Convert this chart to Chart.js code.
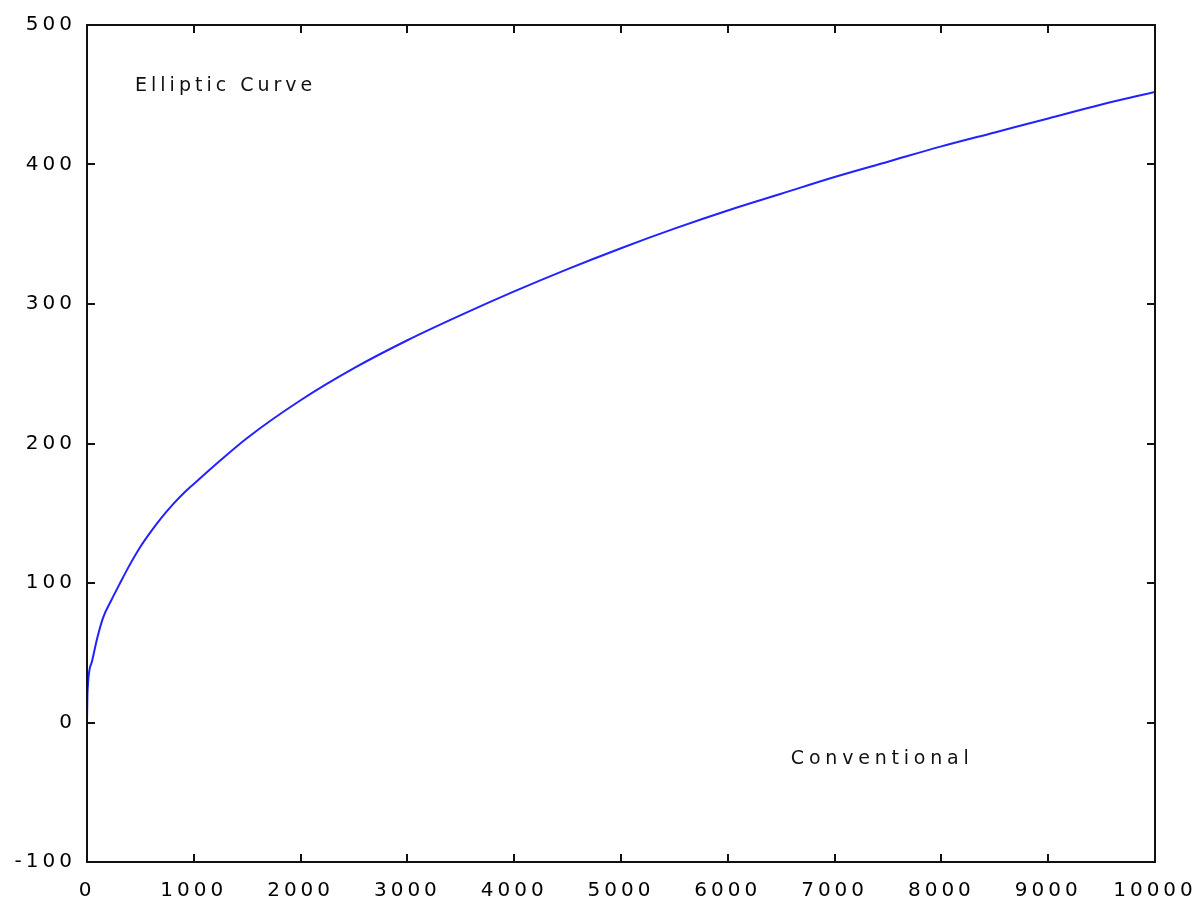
<!DOCTYPE html>
<html>
<head>
<meta charset="utf-8">
<script src="https://cdn.jsdelivr.net/npm/chart.js@4/dist/chart.umd.min.js"></script>
<style>
  html, body { margin: 0; padding: 0; background: #fff; }
  #wrap { width: 1198px; height: 903px; }
</style>
</head>
<body>
<div id="wrap"><canvas id="keyChart"></canvas></div>
<script>
// key size: conventional (x) vs elliptic curve (y)
const conventional = [0, 5, 44, 91, 150, 230, 310, 400, 500, 600, 700, 800, 900, 1000, 1250, 1500, 2000, 2500, 3000, 3500, 4000, 4500, 5000, 5500, 6000, 6500, 7000, 7500, 8000, 8500, 9000, 9500, 10000];
const elliptic     = [0, 22, 43, 59, 75, 88, 100, 113, 126, 137, 147, 156, 164, 171, 188, 204, 231, 254, 274, 292, 309, 325, 340, 354, 367, 379, 391, 402, 413, 423, 433, 443, 452];
const xRange = [0, 10000];
const yRange = [-100, 500];
const xStep = 1000;
const yStep = 100;

const FONT = '"DejaVu Sans", sans-serif';

// frame, inward ticks on all four sides, and the two axis notes
const framePlugin = {
  id: 'frame',
  beforeDraw(chart) {
    chart.ctx.letterSpacing = '4px';
  },
  afterDraw(chart) {
    const { ctx, chartArea: a, scales: { x, y } } = chart;
    ctx.save();
    ctx.strokeStyle = '#111';
    ctx.lineWidth = 2;
    ctx.strokeRect(a.left, a.top, a.right - a.left, a.bottom - a.top);
    ctx.beginPath();
    x.ticks.forEach(t => {
      const px = Math.round(x.getPixelForValue(t.value));
      ctx.moveTo(px, a.bottom); ctx.lineTo(px, a.bottom - 8);
      ctx.moveTo(px, a.top); ctx.lineTo(px, a.top + 8);
    });
    y.ticks.forEach(t => {
      const py = Math.round(y.getPixelForValue(t.value));
      ctx.moveTo(a.left, py); ctx.lineTo(a.left + 8, py);
      ctx.moveTo(a.right, py); ctx.lineTo(a.right - 8, py);
    });
    ctx.stroke();

    ctx.font = '19px ' + FONT;
    ctx.fillStyle = '#111';
    ctx.textAlign = 'left';
    ctx.textBaseline = 'middle';
    ctx.letterSpacing = '4px';
    ctx.fillText('Elliptic Curve', x.getPixelForValue(450), y.getPixelForValue(456));
    ctx.letterSpacing = '4.8px';
    ctx.fillText('Conventional', x.getPixelForValue(6590), y.getPixelForValue(-26));
    ctx.restore();
  }
};

const ctx = document.getElementById('keyChart').getContext('2d');
const keyChart = new Chart(ctx, {
  type: 'line',
  data: {
    datasets: [{
      label: 'Elliptic Curve',
      data: conventional.map((c, i) => ({ x: c, y: elliptic[i] })),
      borderColor: '#2222ff',
      borderWidth: 2,
      pointRadius: 0,
      cubicInterpolationMode: 'monotone',
      fill: false
    }]
  },
  options: {
    responsive: true,
    maintainAspectRatio: false,
    animation: false,
    layout: { padding: { top: 25, right: 43, left: 0, bottom: 0 } },
    plugins: {
      legend: { display: false },
      tooltip: { enabled: false }
    },
    scales: {
      x: {
        type: 'linear',
        min: xRange[0],
        max: xRange[1],
        grid: { display: false, drawTicks: false },
        border: { display: false },
        ticks: {
          stepSize: xStep,
          maxRotation: 0,
          autoSkip: false,
          padding: 17,
          color: '#000',
          font: { family: FONT, size: 20 },
          callback: v => String(v)
        },
        afterFit(scale) {
          scale.height = 41;
          scale.paddingLeft = 0;
          scale.paddingRight = 0;
        }
      },
      y: {
        min: yRange[0],
        max: yRange[1],
        grid: { display: false, drawTicks: false },
        border: { display: false },
        ticks: {
          stepSize: yStep,
          padding: 11,
          color: '#000',
          font: { family: FONT, size: 20 },
          callback: v => String(v)
        },
        afterFit(scale) {
          scale.width = 87;
          scale.paddingTop = 0;
          scale.paddingBottom = 0;
        }
      }
    }
  },
  plugins: [framePlugin]
});
</script>
</body>
</html>
